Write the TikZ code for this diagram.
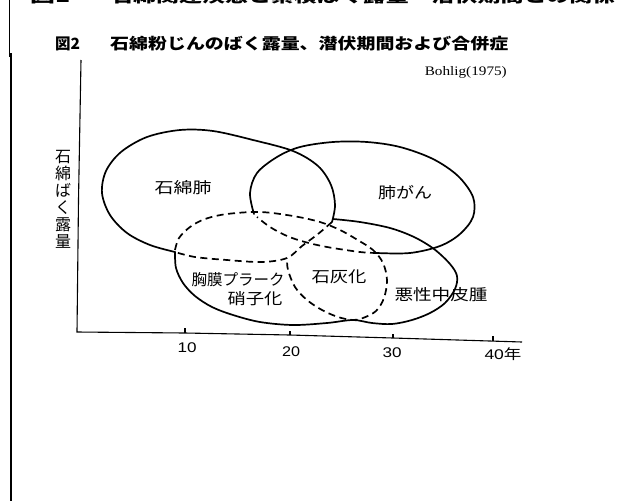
\documentclass[tikz,border=0pt]{standalone}
\usepackage{fontspec}
\usepackage{graphicx}
\newfontfamily\jp{Noto Sans CJK JP}
\newfontfamily\ser{Liberation Serif}
\newfontfamily\sans{Liberation Sans}
\newcommand\fitw[2]{\resizebox{#1}{\height}{#2}}
\tikzset{
  ring/.style={line width=1.7pt, line join=round, line cap=round},
  dashring/.style={line width=1.7pt, line join=round, dash pattern=on 7pt off 4.5pt},
  axisline/.style={line width=1.1pt},
  lbl/.style={font=\jp\fontsize{15.5}{18}\selectfont, inner sep=0pt},
  ticklbl/.style={font=\sans\fontsize{14}{16}\selectfont, inner sep=0pt},
  frame/.style={line width=1.3pt},
}
\begin{document}
\begin{tikzpicture}[x=1pt,y=-1pt]
\useasboundingbox (0,0) rectangle (631,501);
% page frame line
\draw[frame] (9.5,0) -- (9.5,57);
\draw[frame] (11,53) -- (11,501);
% cut-off header (only its lower edge lies on the page)
\begin{scope}
\clip (0,0) rectangle (631,501);
\node[font=\jp\bfseries\fontsize{16}{18}\selectfont, inner sep=0pt, anchor=base west] (hdA) at (30,2.5) {\fitw{40pt}{図1}};
\node[font=\jp\bfseries\fontsize{16}{18}\selectfont, inner sep=0pt, anchor=base west] (hdB) at (110,2.5) {\fitw{505pt}{石綿関連疾患と累積ばく露量・潜伏期間との関係}};
\end{scope}
% title
\node[font=\jp\bfseries\fontsize{15.5}{18}\selectfont, inner sep=0pt, anchor=west] (fig) at (55,43.5) {\fitw{25pt}{図2}};
\node[font=\jp\bfseries\fontsize{15.5}{18}\selectfont, inner sep=0pt, anchor=west] (title) at (110,43.5) {\fitw{398pt}{石綿粉じんのばく露量、潜伏期間および合併症}};
\node[font=\ser\fontsize{13}{15}\selectfont, inner sep=0pt, anchor=east] (src) at (507,72) {\fitw{82pt}{Bohlig(1975)}};
% axes
\coordinate (ytop) at (81,60);
\coordinate (orig) at (77,332);
\draw[axisline] (ytop) -- (78.5,200) -- (orig) -- (185,333) -- (290,335) -- (393,338) -- (522,342);
\draw[axisline] (185,333) -- (185,328);
\draw[axisline] (290,335) -- (290,331);
\draw[axisline] (393,338) -- (393,334);
\draw[axisline] (493,341) -- (493,336);
\node[ticklbl] (t10) at (187,348) {\fitw{19pt}{10}};
\node[ticklbl] (t20) at (291,352) {\fitw{18pt}{20}};
\node[ticklbl] (t30) at (392,353) {\fitw{19pt}{30}};
\node[ticklbl] (t40) at (503,354) {\fitw{37pt}{40\jp 年}};
\node[font=\jp\fontsize{16}{17}\selectfont, inner sep=0pt, align=center] (ylab) at (63,199) {石\\綿\\ば\\く\\露\\量};
% asbestosis ellipse (solid part)
\draw[ring] plot[smooth, tension=0.55] coordinates {(175,252) (150,245) (127,233) (110,215) (102,193) (106,171) (121,152) (147,137) (180,130) (213,131) (253,140) (293,151) (318,166) (331,185) (335,205) (332,222)};
% asbestosis lower part (dashed)
\draw[dashring] plot[smooth, tension=0.55] coordinates {(332,222) (318,234) (302,246) (287,258) (262,262) (227,260) (195,257) (175,252)};
% lung cancer ellipse (solid part)
\draw[ring] plot[smooth, tension=0.55] coordinates {(254,214) (250,193) (257,173) (277,157) (300,147) (333,142) (367,142) (400,147) (433,159) (458,176) (473,197) (473,217) (460,234) (440,246) (410,253) (377,253)};
% lung cancer lower-left part (dashed)
\draw[dashring] plot[smooth, tension=0.55] coordinates {(377,253) (360,252) (327,247) (305,242) (287,236) (270,227) (257,217)};
% pleural plaque / calcification dashed outline
\draw[dashring] plot[smooth, tension=0.55] coordinates {(175,250) (179,238) (190,227) (205,219) (227,214) (260,212) (293,216) (320,222) (340,230) (356,239) (373,250) (383,263) (387,280) (384,298) (376,311) (363,318) (353,320) (338,317) (322,310) (307,300) (295,287) (288,270) (287,258)};
% lower solid ellipse (mesothelioma)
\draw[ring] plot[smooth, tension=0.55] coordinates {(175,252) (176,268) (183,283) (195,296) (212,307) (233,315) (260,322) (293,325) (327,323) (353,320) (372,323) (392,324) (412,320) (430,313) (445,303) (455,289) (457,276) (450,264) (434,249) (414,237) (390,228) (360,222) (333,219)};
% labels
\node[lbl] (asb) at (183,188) {\fitw{57pt}{石綿肺}};
\node[lbl] (lung) at (405,193) {\fitw{54pt}{肺がん}};
\node[lbl] (plq) at (238,280) {\fitw{93pt}{胸膜プラーク}};
\node[lbl] (hya) at (255,299) {\fitw{55pt}{硝子化}};
\node[lbl] (calc) at (339,277) {\fitw{55pt}{石灰化}};
\node[lbl] (meso) at (441,295) {\fitw{93pt}{悪性中皮腫}};
\end{tikzpicture}
\end{document}
